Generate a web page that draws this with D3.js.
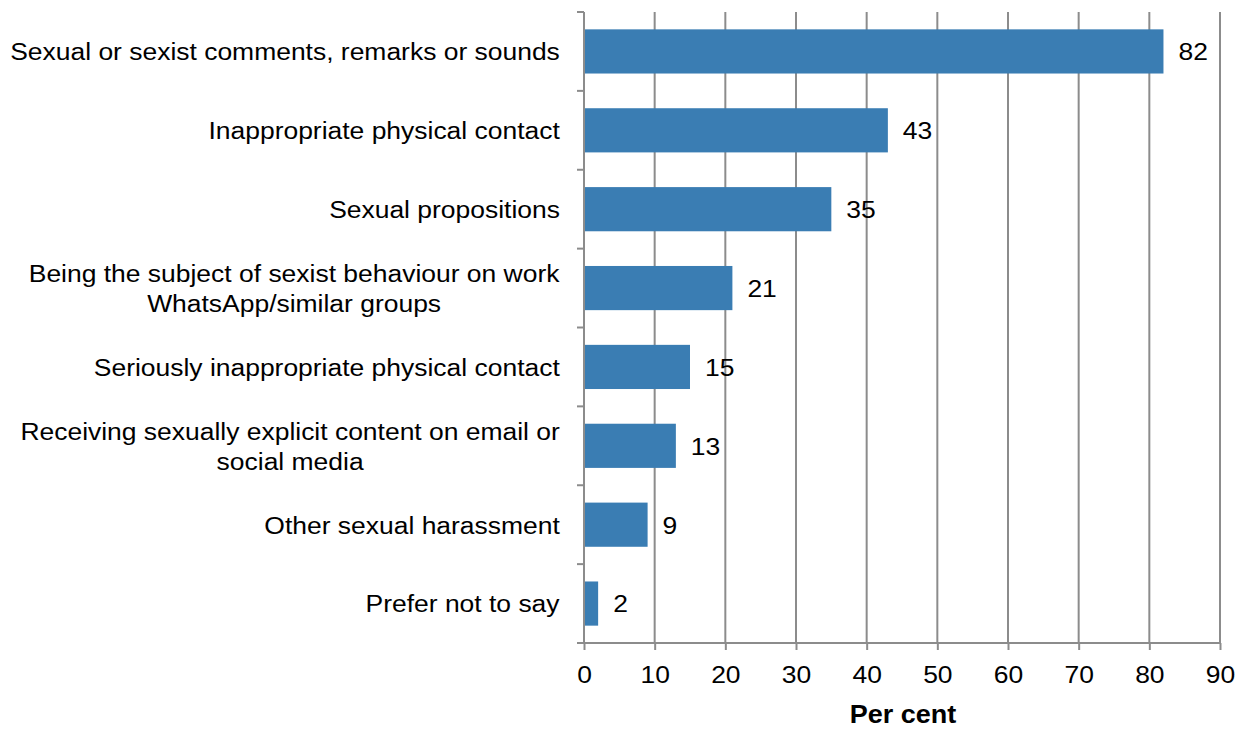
<!DOCTYPE html>
<html><head><meta charset="utf-8">
<script src="https://cdn.jsdelivr.net/npm/d3@7"></script>
<style>body{margin:0;background:#fff}svg{display:block}text{font-family:"Liberation Sans",Arial,sans-serif;fill:#000}</style>
</head><body><svg id="c" width="1247" height="729"></svg>
<script>
const categories = [
  ["Sexual or sexist comments, remarks or sounds"],
  ["Inappropriate physical contact"],
  ["Sexual propositions"],
  ["Being the subject of sexist behaviour on work","WhatsApp/similar groups"],
  ["Seriously inappropriate physical contact"],
  ["Receiving sexually explicit content on email or","social media"],
  ["Other sexual harassment"],
  ["Prefer not to say"]
];
const values = [82, 43, 35, 21, 15, 13, 9, 2];
const xTicks = [0,10,20,30,40,50,60,70,80,90];
const xTitle = "Per cent";

(function(){
const svg = d3.select("#c");
const L = 584, R = 1220, T = 12, B = 643;
const FS = 24.5, SX = 1.08;
const x = d3.scaleLinear().domain([0,90]).range([L,R]);
const y = d3.scaleBand().domain(d3.range(categories.length)).range([T,B]).paddingInner(0.44).paddingOuter(0.22);
const grid = "#8c8c8c";

svg.append("g").selectAll("line").data(xTicks.slice(1)).join("line")
  .attr("x1",d=>x(d)).attr("x2",d=>x(d)).attr("y1",T).attr("y2",B)
  .attr("stroke",grid).attr("stroke-width",2);

svg.append("g").selectAll("rect").data(values).join("rect")
  .attr("x",x(0)).attr("y",(d,i)=>y(i)).attr("width",d=>x(d)-x(0)).attr("height",y.bandwidth())
  .attr("fill","#3a7db3");

svg.append("g").selectAll("text").data(values).join("text")
  .attr("transform",(d,i)=>`translate(${x(d)+15},${y(i)+y.bandwidth()/2}) scale(${SX},1)`)
  .attr("dy","0.36em").attr("font-size",FS).text(d=>d);

const xa = svg.append("g").attr("transform",`translate(0,${B})`)
  .call(d3.axisBottom(x).tickValues(xTicks).tickSize(7).tickPadding(9).tickSizeOuter(0));
xa.select(".domain").attr("stroke",grid).attr("stroke-width",2).attr("d",`M${L-7},0H${R}`);
xa.selectAll(".tick line").attr("stroke",grid).attr("stroke-width",2);
xa.selectAll(".tick text").attr("font-size",FS).attr("font-family","Liberation Sans, Arial, sans-serif").attr("fill","#000")
  .attr("y",null).attr("dy",null).attr("transform",`translate(0,40) scale(${SX},1)`);

const tickYs = d3.range(categories.length+1).map(i=>T + i*(B-T)/categories.length);
svg.append("line").attr("x1",L).attr("x2",L).attr("y1",T).attr("y2",B).attr("stroke",grid).attr("stroke-width",2);
svg.append("g").selectAll("line").data(tickYs).join("line")
  .attr("x1",L-7).attr("x2",L).attr("y1",d=>d).attr("y2",d=>d).attr("stroke",grid).attr("stroke-width",2);

const cl = svg.append("g").selectAll("text").data(categories).join("text")
  .attr("font-size",FS).attr("text-anchor","middle");
cl.each(function(lines,i){
  const t = d3.select(this);
  const lh = 30;
  const n = lines.length;
  lines.forEach((ln,j)=>{
    t.append("tspan").attr("x",0).attr("y",(j-(n-1)/2)*lh).attr("dy","0.36em").text(ln);
  });
  const w = this.getBBox().width*SX;
  const cy = y(i)+y.bandwidth()/2;
  t.attr("transform",`translate(${560 - w/2},${cy}) scale(${SX},1)`);
});

svg.append("text").attr("transform",`translate(${(L+R)/2+1},723) scale(${SX},1)`).attr("text-anchor","middle")
  .attr("font-size",FS+0.5).attr("font-weight","bold").text(xTitle);
})();
</script></body></html>
